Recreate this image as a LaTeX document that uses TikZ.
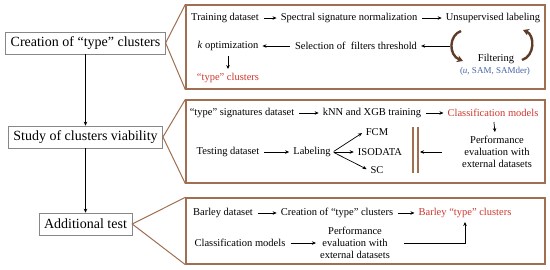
\documentclass[tikz,border=0pt]{standalone}
\usepackage{fontspec}
\setmainfont{Liberation Serif}
\usetikzlibrary{arrows.meta}
\definecolor{panelcol}{RGB}{160, 110, 80}
\definecolor{cyclecol}{RGB}{95, 60, 40}
\definecolor{hotcol}{RGB}{205, 55, 45}
\definecolor{notecol}{RGB}{70, 100, 165}
\definecolor{stagecol}{RGB}{135, 135, 135}
\tikzset{
  stage/.style   = {draw=stagecol, line width=0.6pt, fill=white, inner xsep=5pt,
                    minimum height=22pt, font=\fontsize{14}{16}\selectfont},
  panel/.style   = {draw=panelcol, line width=1.3pt, inner sep=0pt},
  item/.style    = {inner sep=2pt, align=center,
                    font=\fontsize{10.5}{12}\selectfont},
  hot/.style     = {item, text=hotcol},
  note/.style    = {item, text=notecol, font=\fontsize{9}{10}\selectfont},
  flow/.style    = {-{Stealth[length=4pt, width=3.5pt]}, line width=0.7pt,
                    shorten <=3pt, shorten >=2pt},
  link/.style    = {-{Stealth[length=4pt, width=3.5pt]}, line width=0.9pt},
  callout/.style = {draw=panelcol, line width=1pt},
  % the filtering loop is drawn heavy, it is the only cycle in the chart
  cyc/.style     = {-{Stealth[length=6pt, width=7pt]}, draw=cyclecol,
                    line width=2.4pt},
  bar/.style     = {draw=panelcol, line width=1.2pt},
}

\begin{document}
\begin{tikzpicture}[x=1pt, y=-1pt]

  \useasboundingbox (0,0) rectangle (550,269);

  %% ---------------- stages ----------------
  \node[stage] (crea) at (85.5,43)  {Creation of “type” clusters};
  \node[stage] (stud) at (85.5,137) {Study of clusters viability};
  \node[stage] (addi) at (85.5,224) {Additional test};

  \draw[link] (crea) -- (stud);
  \draw[link] (stud) -- (addi);

  %% ---------------- panels ----------------
  \node[panel, minimum width=359pt, minimum height=84pt] (panA) at (365.5,47)    {};
  \node[panel, minimum width=359pt, minimum height=83pt] (panB) at (365.5,141.5) {};
  \node[panel, minimum width=359pt, minimum height=66pt] (panC) at (365.5,231)   {};

  \draw[callout] (panA.north west) -- (crea.east) -- (panA.south west);
  \draw[callout] (panB.north west) -- (stud.east) -- (panB.south west);
  \draw[callout] (panC.north west) -- (addi.east) -- (panC.south west);

  %% ================ creation of the clusters ================
  \node[item] (train) at (225,18) {Training dataset};
  \node[item] (norm)  at (349,18) {Spectral signature normalization};
  \node[item] (unsup) at (493,18) {Unsupervised labeling};
  \node[item] (kopt)  at (228,46) {\textit{k} optimization};
  \node[item] (sel)   at (356,46) {Selection of \ filters threshold};
  \node[item] (filt)  at (496,59) {Filtering};
  \node[note] (fpar)  at (495,71) {(\textit{u}, SAM, SAMder)};
  \node[hot]  (tcl)   at (228,78) {“type” clusters};

  \coordinate (loopW) at (450,46);
  \coordinate (loopA) at (461,31);
  \coordinate (loopB) at (463,61);
  \coordinate (loopC) at (522,60);
  \coordinate (loopD) at (523,30);

  \draw[flow] (train) -- (norm);
  \draw[flow] (norm) -- (unsup);
  \draw[flow, shorten <=0pt] (loopW) -- (sel);
  \draw[flow] (sel) -- (kopt);
  \draw[flow] (kopt) -- (tcl);
  \draw[cyc] (loopA) .. controls (449,35) and (448,55) .. (loopB);
  \draw[cyc] (loopC) .. controls (535,56) and (535,35) .. (loopD);

  %% ================ viability of the clusters ================
  \node[item] (sig)  at (242,113) {“type” signatures dataset};
  \node[item] (knn)  at (372,113) {kNN and XGB training};
  \node[hot]  (clsm) at (493,113) {Classification models};
  \node[item] (perf) at (497,152) {Performance\\evaluation with\\external datasets};
  \node[item] (test) at (228,152) {Testing dataset};
  \node[item] (lab)  at (312,152) {Labeling};
  \node[item] (fcm)  at (377,132) {FCM};
  \node[item] (iso)  at (380,152) {ISODATA};
  \node[item] (sc)   at (377,170) {SC};

  \coordinate (wall) at (420,152);
  \draw[bar] (413,127) -- (413,173);
  \draw[bar] (418,127) -- (418,173);

  \draw[flow] (sig) -- (knn);
  \draw[flow] (knn) -- (clsm);
  \draw[flow] (clsm) -- (perf);
  \draw[flow, shorten <=18pt, shorten >=0pt] (perf.west) -- (wall);
  \draw[flow] (test) -- (lab);
  \draw[flow, shorten <=1pt] (lab.east) -- (fcm.west);
  \draw[flow, shorten <=1pt] (lab.east) -- (iso.west);
  \draw[flow, shorten <=1pt] (lab.east) -- (sc.west);

  %% ================ the additional test ================
  \node[item] (barl)  at (223,213) {Barley dataset};
  \node[item] (creb)  at (337,213) {Creation of “type” clusters};
  \node[hot]  (barcl) at (465,213) {Barley “type” clusters};
  \node[item] (clsm2) at (240,243) {Classification models};
  \node[item] (perf2) at (355,243) {Performance\\evaluation with\\external datasets};

  \draw[flow] (barl) -- (creb);
  \draw[flow] (creb) -- (barcl);
  \draw[flow] (clsm2) -- (perf2);
  \draw[flow, shorten <=12pt] (perf2.east) -| (barcl.south);

\end{tikzpicture}
\end{document}
